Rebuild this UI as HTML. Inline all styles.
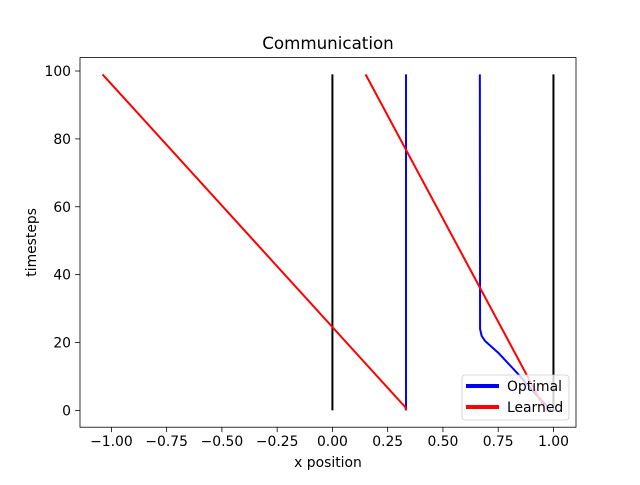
<!DOCTYPE html>
<html><head><style>
body{margin:0;background:#fff;font-family:"Liberation Sans","DejaVu Sans",sans-serif;}
</style></head><body>
<svg id="c" width="640" height="480" font-family="DejaVu Sans, Liberation Sans, sans-serif"></svg>
<script>
const yTicks=[0,20,40,60,80,100];
const xTicks=[-1.0,-0.75,-0.5,-0.25,0,0.25,0.5,0.75,1.0];
const xTickLabels=["−1.00","−0.75","−0.50","−0.25","0.00","0.25","0.50","0.75","1.00"];
const wall1X=[0,0];const wall1Y=[0,99];
const wall2X=[1,1];const wall2Y=[0,99];
const opt1X=[0.333,0.333];const opt1Y=[0,99];
const opt2X=[0.99,0.916,0.836,0.75,0.69,0.675,0.668,0.667];
const opt2Y=[0,5,11,17,20.5,22,24,99];
const learn1X=[0.333,0.33,0.315,-1.04];const learn1Y=[0,1,2,99];
const learn2X=[0.965,0.15];const learn2Y=[0,99];
const L=80,R=576,T=57.6,B=427.2;
const xmin=-1.142,xmax=1.102,ymin=-4.95,ymax=103.95;
const sx=v=>L+(v-xmin)/(xmax-xmin)*(R-L);
const sy=v=>B-(v-ymin)/(ymax-ymin)*(B-T);
const svg=document.getElementById('c');
const NS='http://www.w3.org/2000/svg';
function mk(t,a,p){const e=document.createElementNS(NS,t);for(const k in a)e.setAttribute(k,a[k]);(p||svg).appendChild(e);return e;}
function line(xs,ys,col,name){
 const e=mk('polyline',{points:xs.map((x,i)=>sx(x)+','+sy(ys[i])).join(' '),fill:'none',stroke:col,'stroke-width':2,'stroke-linejoin':'round'});
 
 
}
line(wall1X,wall1Y,'#000','wall-left');
line(wall2X,wall2Y,'#000','wall-right');
line(opt1X,opt1Y,'blue','optimal-agent-1');
line(opt2X,opt2Y,'blue','optimal-agent-2');
line(learn1X,learn1Y,'red','learned-agent-1');
line(learn2X,learn2Y,'red','learned-agent-2');
const fr=mk('rect',{x:L,y:T,width:R-L,height:B-T,fill:'none',stroke:'#000','stroke-width':0.8});


xTicks.forEach((v,i)=>{
 mk('line',{x1:sx(v),x2:sx(v),y1:B,y2:B+4.9,stroke:'#000','stroke-width':0.8});
 const t=mk('text',{x:sx(v),y:B+19,'text-anchor':'middle','font-size':13.9});
 t.textContent=xTickLabels[i];
 
 
});
yTicks.forEach(v=>{
 mk('line',{x1:L,x2:L-4.9,y1:sy(v),y2:sy(v),stroke:'#000','stroke-width':0.8});
 const t=mk('text',{x:L-9,y:sy(v)+5,'text-anchor':'end','font-size':13.9});
 t.textContent=v;
 
 
});
const tt=mk('text',{x:(L+R)/2,y:49,'text-anchor':'middle','font-size':16.7});tt.textContent='Communication';


const xl=mk('text',{x:(L+R)/2,y:467,'text-anchor':'middle','font-size':13.9});xl.textContent='x position';


const yl=mk('text',{x:0,y:0,'text-anchor':'middle','font-size':13.9,transform:'translate(36,'+((T+B)/2)+') rotate(-90)'});yl.textContent='timesteps';


const lg=mk('g',{});


mk('rect',{x:462,y:375,width:107,height:45,rx:3,fill:'#fff','fill-opacity':0.8,stroke:'#ccc','stroke-width':0.8},lg);
[['Optimal','blue',386],['Learned','red',407]].forEach(([n,c,y])=>{
 mk('line',{x1:466,x2:499,y1:y,y2:y,stroke:c,'stroke-width':4},lg);
 const t=mk('text',{x:507,y:y+5,'font-size':13.9},lg);t.textContent=n;
 
 
});
</script>
</body></html>
